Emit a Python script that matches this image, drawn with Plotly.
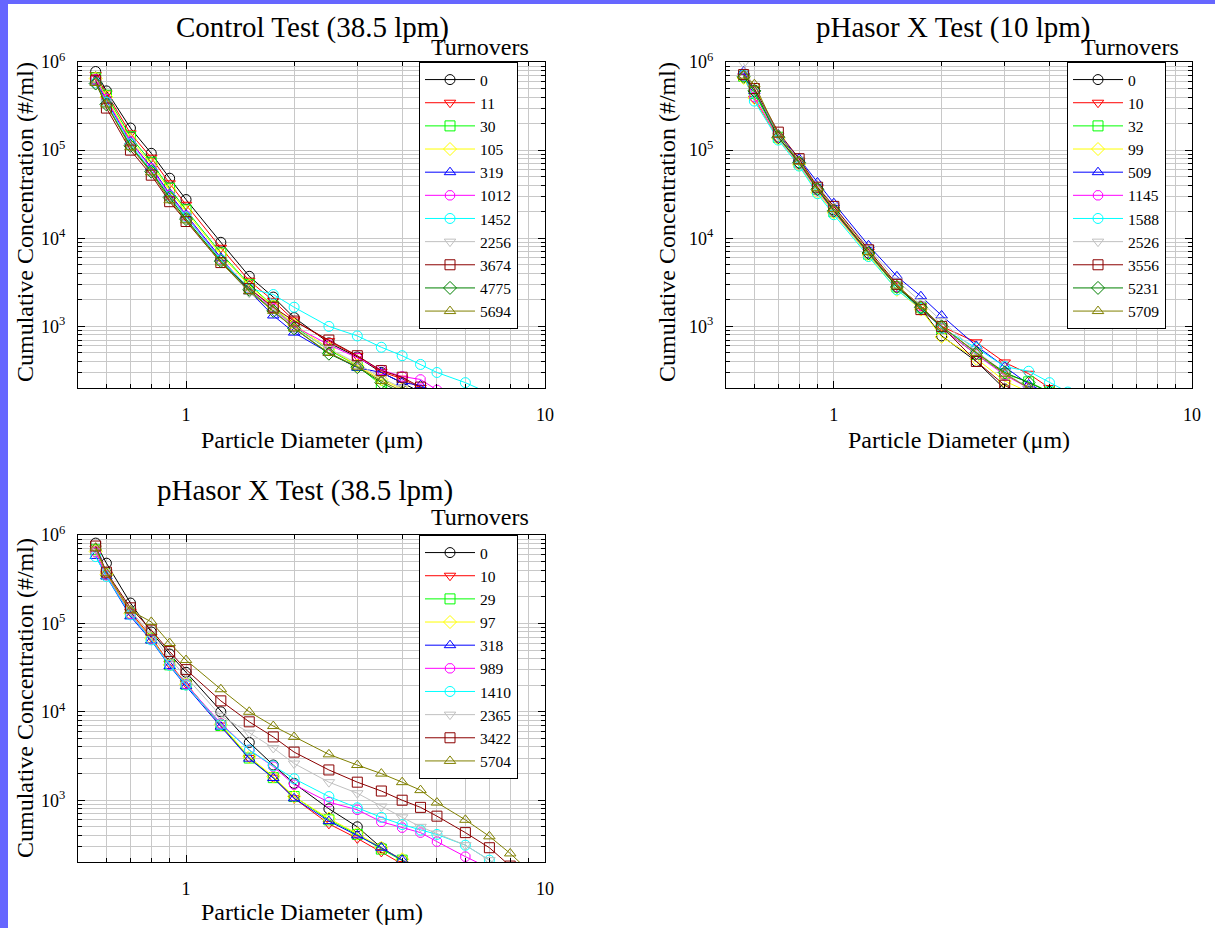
import math
import plotly.graph_objects as go

# ---------------- data ----------------
diameters = [0.56, 0.6, 0.7, 0.8, 0.9, 1.0, 1.25, 1.5, 1.75, 2.0, 2.5, 3.0,
             3.5, 4.0, 4.5, 5.0, 6.0, 7.0, 8.0, 9.0, 10.0]

control_labels = ["0", "11", "30", "105", "319", "1012", "1452", "2256", "3674", "4775", "5694"]
control_values = [
    [780000, 470000, 178000, 92000, 48000, 27500, 9000, 3700, 2150, 1260, 650, 450, 300, 230, 180, 140],
    [710000, 440000, 155000, 82000, 42000, 24000, 7800, 3300, 1950, 1170, 680, 460, 305, 255, 200, 150],
    [660000, 420000, 142000, 73000, 37000, 21000, 6800, 3000, 1700, 1000, 540, 360, 215, 165],
    [650000, 400000, 132000, 69000, 35000, 20000, 6500, 2900, 1700, 1050, 560, 360, 250, 195, 155],
    [600000, 360000, 125000, 64000, 32000, 18500, 6000, 2500, 1330, 850, 500, 340, 300, 230, 215, 170],
    [640000, 380000, 125000, 62000, 31000, 18000, 5800, 2700, 1600, 1000, 620, 440, 320, 270, 250, 190],
    [580000, 350000, 118000, 58000, 30000, 17500, 5700, 2700, 2300, 1650, 1000, 780, 580, 465, 370, 300, 230, 174, 130],
    [560000, 340000, 110000, 55000, 28000, 16500, 5400, 2400, 1600, 950, 560, 380, 260, 200, 160],
    [620000, 300000, 100000, 52000, 26000, 15500, 5300, 2700, 1650, 1150, 700, 465, 315, 265, 205, 160],
    [570000, 330000, 112000, 57000, 29000, 16500, 5500, 2600, 1500, 950, 490, 345, 230, 175],
    [580000, 330000, 108000, 56000, 27000, 16000, 5300, 2500, 1500, 950, 500, 350, 240, 185],
]
control_styles = [0, 1, 2, 3, 4, 5, 6, 7, 8, 9, 10]

phasor10_labels = ["0", "10", "32", "99", "509", "1145", "1588", "2526", "3556", "5231", "5709"]
phasor10_values = [
    [700000, 480000, 140000, 72000, 36000, 21000, 6800, 2800, 1600, 780, 400, 195, 150],
    [680000, 380000, 135000, 75000, 37000, 21000, 7000, 2900, 1700, 1000, 660, 390, 290, 200, 150],
    [690000, 440000, 140000, 72000, 36000, 20000, 6600, 2800, 1650, 950, 480, 290, 235, 180],
    [660000, 390000, 135000, 68000, 33000, 19500, 6400, 2600, 1550, 760, 430, 240, 180],
    [780000, 470000, 150000, 80000, 43000, 25000, 8300, 3700, 2200, 1330, 600, 350, 220, 170],
    [700000, 400000, 138000, 70000, 35000, 20000, 6700, 2800, 1700, 950, 480, 280, 200, 150],
    [710000, 360000, 130000, 66000, 32000, 18500, 6200, 2600, 1600, 960, 570, 350, 310, 230, 180],
    [970000, 470000, 145000, 78000, 40000, 23000, 7800, 3300, 1900, 1150, 520, 300, 200, 150],
    [720000, 500000, 160000, 80000, 38000, 23000, 7400, 3000, 1550, 1000, 400, 215, 150],
    [680000, 470000, 140000, 72000, 36000, 20500, 6800, 2800, 1650, 1000, 500, 300, 230, 180],
    [700000, 560000, 150000, 74000, 37000, 21500, 7000, 2900, 1700, 1000, 500, 290, 200, 150],
]
phasor10_styles = [0, 1, 2, 3, 4, 5, 6, 7, 8, 9, 10]

phasor38_labels = ["0", "10", "29", "97", "318", "989", "1410", "2365", "3422", "5704"]
phasor38_values = [
    [810000, 480000, 170000, 80000, 45000, 28000, 10000, 4500, 2500, 1550, 800, 500, 290, 210, 160],
    [700000, 360000, 135000, 70000, 35000, 21000, 7000, 3000, 1800, 1050, 540, 370, 260, 190, 150],
    [680000, 360000, 130000, 68000, 34000, 20500, 7000, 3000, 1800, 1100, 600, 410, 280, 210, 160],
    [650000, 360000, 130000, 68000, 34000, 20500, 7200, 3100, 1850, 1100, 620, 420, 290, 215, 160],
    [580000, 340000, 120000, 64000, 33000, 19500, 6800, 2950, 1780, 1050, 580, 400, 290, 210, 160],
    [640000, 350000, 128000, 66000, 34000, 20500, 7400, 3700, 2400, 1500, 950, 780, 570, 490, 430, 340, 230, 170],
    [570000, 340000, 125000, 65000, 33500, 20000, 7200, 3700, 2450, 1750, 1100, 820, 640, 530, 460, 410, 310, 210, 150],
    [700000, 380000, 140000, 75000, 40000, 25000, 9000, 5800, 3900, 2600, 1600, 1200, 850, 640, 500, 420, 310, 210, 150],
    [750000, 380000, 150000, 84000, 48000, 30000, 13300, 7700, 5200, 3500, 2200, 1600, 1270, 1000, 830, 660, 430, 290, 180],
    [720000, 370000, 140000, 104000, 60000, 38500, 18000, 10000, 6900, 5200, 3300, 2500, 2000, 1600, 1300, 940, 600, 390, 250, 160],
]
phasor38_styles = [0, 1, 2, 3, 4, 5, 6, 7, 8, 10]

x_tick_vals = [1, 10]
x_tick_text = ["1", "10"]
x_minor_vals = [0.6, 0.7, 0.8, 0.9, 2, 3, 4, 5, 6, 7, 8, 9]
y_tick_vals = [1e3, 1e4, 1e5, 1e6]
y_tick_text = ["10<sup>3</sup>", "10<sup>4</sup>", "10<sup>5</sup>", "10<sup>6</sup>"]
y_minor_vals = [m * 10 ** e for e in range(2, 6) for m in range(2, 10)]

# ---------------- style ----------------
colors = ["#000000", "#ff0000", "#00ff00", "#ffff00", "#0000ff", "#ff00ff",
          "#00ffff", "#c0c0c0", "#8b0000", "#008000", "#808000"]
symbols = ["circle-open", "triangle-down-open", "square-open", "diamond-open",
           "triangle-up-open", "octagon-open", "circle-open", "triangle-down-open",
           "square-open", "diamond-open", "triangle-up-open"]

FONT = "Liberation Serif, Times New Roman, serif"
W, H = 1215, 928


def px(v):
    return v / W


def py(v):
    return 1 - v / H


fig = go.Figure()

panels = [
    ("x", "y", "legend", control_labels, control_values, control_styles),
    ("x2", "y2", "legend2", phasor10_labels, phasor10_values, phasor10_styles),
    ("x3", "y3", "legend3", phasor38_labels, phasor38_values, phasor38_styles),
]

for xa, ya, lg, labels, values, styles in panels:
    for lab, vals, s in zip(labels, values, styles):
        fig.add_trace(go.Scatter(
            x=diameters[:len(vals)], y=vals, name=lab, mode="lines+markers",
            xaxis=xa, yaxis=ya, legend=lg,
            line=dict(color=colors[s], width=1),
            marker=dict(symbol=symbols[s], size=10, color=colors[s],
                        line=dict(color=colors[s], width=1)),
        ))


def xaxis_cfg(domain, anchor):
    return dict(
        type="log", range=[math.log10(0.5), 1], domain=domain, anchor=anchor,
        automargin=False,
        tickmode="array", tickvals=x_tick_vals, ticktext=x_tick_text,
        ticks="inside", ticklen=7, tickwidth=1, tickcolor="black",
        showline=True, linecolor="black", linewidth=1, mirror="allticks",
        showgrid=True, gridcolor="#c8c8c8", gridwidth=1, zeroline=False,
        minor=dict(tickmode="array", tickvals=x_minor_vals, ticks="inside",
                   ticklen=4, tickcolor="black", showgrid=True,
                   gridcolor="#c8c8c8", gridwidth=1),
        tickfont=dict(family=FONT, size=18, color="black"),
        ticklabelstandoff=10,
    )


def yaxis_cfg(domain, anchor):
    return dict(
        type="log", range=[math.log10(200), 6], domain=domain, anchor=anchor,
        automargin=False,
        tickmode="array", tickvals=y_tick_vals, ticktext=y_tick_text,
        ticks="inside", ticklen=7, tickwidth=1, tickcolor="black",
        showline=True, linecolor="black", linewidth=1, mirror="allticks",
        showgrid=True, gridcolor="#c8c8c8", gridwidth=1, zeroline=False,
        minor=dict(tickmode="array", tickvals=y_minor_vals, ticks="inside",
                   ticklen=4, tickcolor="black", showgrid=True,
                   gridcolor="#c8c8c8", gridwidth=1),
        tickfont=dict(family=FONT, size=18, color="black"),
        ticklabelstandoff=8,
    )


top_y = [py(388), py(62)]
bot_y = [py(862), py(535)]
left_x = [px(78), px(545)]
right_x = [px(726), px(1192)]

legend_common = dict(
    xref="paper", yref="paper", xanchor="left", yanchor="top",
    bgcolor="white", bordercolor="black", borderwidth=1,
    font=dict(family=FONT, size=15.5, color="black"), itemwidth=50,
    entrywidth=42, entrywidthmode="pixels",
)

fig.update_layout(
    width=W, height=H, autosize=False,
    margin=dict(l=0, r=0, t=0, b=0, pad=0, autoexpand=False),
    paper_bgcolor="#6666ff", plot_bgcolor="white",
    font=dict(family=FONT, color="black"),
    showlegend=True,
    xaxis=xaxis_cfg(left_x, "y"),
    yaxis=yaxis_cfg(top_y, "x"),
    xaxis2=xaxis_cfg(right_x, "y2"),
    yaxis2=yaxis_cfg(top_y, "x2"),
    xaxis3=xaxis_cfg(left_x, "y3"),
    yaxis3=yaxis_cfg(bot_y, "x3"),
    legend=dict(x=px(419), y=py(62), **legend_common),
    legend2=dict(x=px(1067), y=py(62), **legend_common),
    legend3=dict(x=px(419), y=py(535), **legend_common),
    shapes=[dict(type="rect", xref="paper", yref="paper", x0=px(8), x1=1.0,
                 y0=0, y1=py(4), fillcolor="white", line=dict(width=0),
                 layer="below")],
)

ann = []


def add_text(text, x, y, size, angle=0):
    ann.append(dict(text=text, x=px(x), y=py(y), xref="paper", yref="paper",
                    xanchor="center", yanchor="middle", showarrow=False,
                    textangle=angle, font=dict(family=FONT, size=size, color="black")))


add_text("Control Test (38.5 lpm)", 312, 28, 29)
add_text("pHasor X Test (10 lpm)", 953, 28, 29)
add_text("pHasor X Test (38.5 lpm)", 305, 490, 29)
add_text("Turnovers", 480, 47, 24)
add_text("Turnovers", 1130, 47, 24)
add_text("Turnovers", 480, 517, 24)
add_text("Cumulative Concentration (#/ml)", 25, 222, 24, -90)
add_text("Cumulative Concentration (#/ml)", 667, 222, 24, -90)
add_text("Cumulative Concentration (#/ml)", 25, 698, 24, -90)
add_text("Particle Diameter (μm)", 312, 440, 24)
add_text("Particle Diameter (μm)", 959, 440, 24)
add_text("Particle Diameter (μm)", 312, 912, 24)
fig.update_layout(annotations=ann)

fig.write_html("out.html",
               config={"displayModeBar": False},
               post_script="document.body.style.margin='0px';document.body.style.overflow='hidden';")
